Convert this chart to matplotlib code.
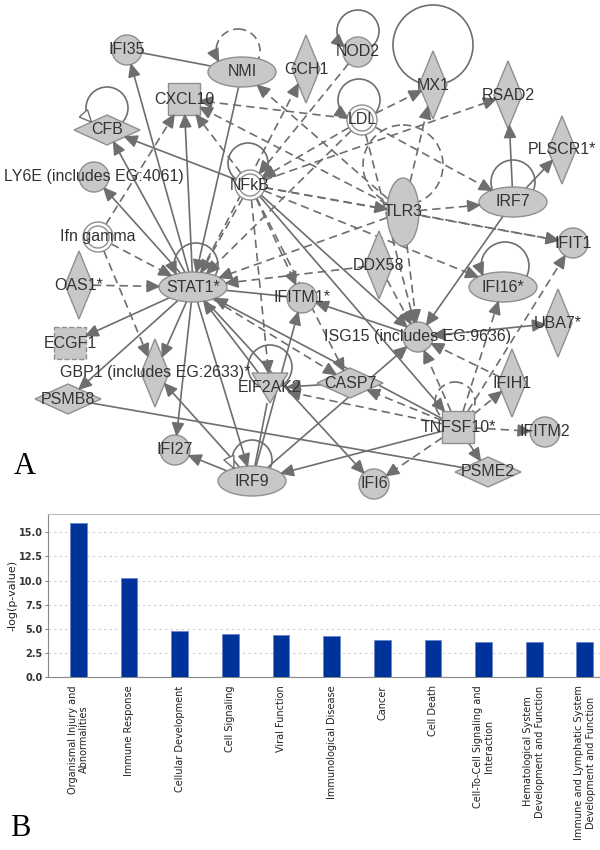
import numpy as np
import matplotlib.pyplot as plt
from matplotlib.patches import Ellipse, Polygon, Rectangle, Circle

# ---- Panel B: datos de la grafica de barras ----
categorias = [
    'Organismal Injury and\nAbnormalities',
    'Immune Response',
    'Cellular Development',
    'Cell Signaling',
    'Viral Function',
    'Immunological Disease',
    'Cancer',
    'Cell Death',
    'Cell-To-Cell Signaling and\nInteraction',
    'Hematological System\nDevelopment and Function',
    'Immune and Lymphatic System\nDevelopment and Function',
]
valores = [16.0, 10.25, 4.75, 4.45, 4.35, 4.3, 3.85, 3.85, 3.65, 3.65, 3.65]
ticks_y = [0.0, 2.5, 5.0, 7.5, 10.0, 12.5, 15.0]

# ---- Panel A: datos de la red ----
nodos = ['IFI35', 'NMI', 'GCH1', 'NOD2', 'MX1', 'RSAD2', 'CXCL10', 'LDL', 'CFB',
         'PLSCR1*', 'LY6E', 'NFkB', 'IRF7', 'TLR3', 'Ifn gamma', 'IFIT1', 'DDX58',
         'OAS1*', 'STAT1*', 'IFI16*', 'IFITM1*', 'UBA7*', 'ISG15', 'ECGF1', 'GBP1',
         'CASP7', 'EIF2AK2', 'IFIH1', 'PSMB8', 'TNFSF10*', 'IFITM2', 'IFI27',
         'PSME2', 'IRF9', 'IFI6']
etiquetas = {'LY6E': 'LY6E (includes EG:4061)',
             'ISG15': 'ISG15 (includes EG:9636)',
             'GBP1': 'GBP1 (includes EG:2633)*',
             'NFkB': 'NFkB'}
tipos = ['circ', 'elip', 'romv', 'circ', 'romv', 'romv', 'cuad', 'doble', 'romh',
         'romv', 'circ', 'doble', 'elip', 'elipv', 'doble', 'circ', 'romv',
         'romv', 'elip', 'elip', 'circ', 'romv', 'circ', 'cuadd', 'romv',
         'romh', 'tri', 'romv', 'romh', 'cuad', 'circ', 'circ',
         'romh', 'elip', 'circ']

# (origen, destino, estilo 's'/'d', flecha 0/1/2)
aristas = [
    ('STAT1*', 'IFI35', 's', 1), ('STAT1*', 'CFB', 's', 1), ('STAT1*', 'LY6E', 's', 1),
    ('STAT1*', 'CXCL10', 's', 1), ('NMI', 'STAT1*', 's', 1), ('IFI35', 'NMI', 's', 0),
    ('NFkB', 'CFB', 's', 1), ('IRF7', 'RSAD2', 's', 1), ('IRF7', 'PLSCR1*', 's', 1),
    ('IRF7', 'ISG15', 's', 1), ('STAT1*', 'ECGF1', 's', 1), ('STAT1*', 'PSMB8', 's', 1),
    ('STAT1*', 'GBP1', 's', 1), ('STAT1*', 'IFI27', 's', 1), ('STAT1*', 'IRF9', 's', 1),
    ('EIF2AK2', 'STAT1*', 's', 1), ('TNFSF10*', 'STAT1*', 's', 1),
    ('STAT1*', 'IFITM1*', 's', 0), ('NFkB', 'ISG15', 's', 1), ('NFkB', 'TNFSF10*', 's', 1),
    ('IRF9', 'IFI27', 's', 1), ('IRF9', 'GBP1', 's', 1), ('IRF9', 'EIF2AK2', 's', 0),
    ('IRF9', 'IFITM1*', 's', 1), ('IRF9', 'ISG15', 's', 1), ('TNFSF10*', 'IRF9', 's', 1),
    ('STAT1*', 'IFI6', 's', 1), ('CASP7', 'EIF2AK2', 's', 1), ('PSMB8', 'PSME2', 's', 0),
    ('TNFSF10*', 'PSME2', 's', 1), ('ISG15', 'UBA7*', 's', 2), ('ISG15', 'IFITM1*', 's', 1),
    ('Ifn gamma', 'CXCL10', 'd', 1), ('Ifn gamma', 'STAT1*', 'd', 1),
    ('Ifn gamma', 'GBP1', 'd', 1), ('OAS1*', 'STAT1*', 'd', 1), ('NFkB', 'CXCL10', 'd', 1),
    ('LDL', 'CXCL10', 'd', 1), ('TLR3', 'CXCL10', 'd', 1), ('TLR3', 'NMI', 'd', 1),
    ('STAT1*', 'GCH1', 'd', 1), ('NOD2', 'NFkB', 'd', 1), ('LDL', 'MX1', 'd', 1),
    ('NFkB', 'RSAD2', 'd', 1), ('LDL', 'IRF7', 'd', 1), ('TLR3', 'IRF7', 'd', 1),
    ('TLR3', 'MX1', 'd', 1), ('TLR3', 'IFIT1', 'd', 1), ('NFkB', 'TLR3', 'd', 1),
    ('LDL', 'NFkB', 'd', 1), ('NFkB', 'IFIT1', 'd', 1), ('NFkB', 'IFI16*', 'd', 1),
    ('NFkB', 'CASP7', 'd', 1), ('NFkB', 'IFITM1*', 'd', 1), ('NFkB', 'STAT1*', 'd', 1),
    ('LDL', 'STAT1*', 'd', 1), ('TLR3', 'STAT1*', 'd', 1), ('DDX58', 'STAT1*', 'd', 1),
    ('DDX58', 'ISG15', 'd', 1), ('TLR3', 'ISG15', 'd', 1), ('LDL', 'ISG15', 'd', 1),
    ('TNFSF10*', 'EIF2AK2', 'd', 1), ('TNFSF10*', 'CASP7', 'd', 1),
    ('TNFSF10*', 'ISG15', 'd', 1), ('TNFSF10*', 'IFIH1', 'd', 1),
    ('TNFSF10*', 'IFITM2', 'd', 1), ('TNFSF10*', 'IFI16*', 'd', 1),
    ('TNFSF10*', 'IFIT1', 'd', 1), ('TNFSF10*', 'IFI6', 'd', 1), ('IFIH1', 'ISG15', 'd', 1),
    ('STAT1*', 'CASP7', 'd', 1), ('NFkB', 'EIF2AK2', 'd', 1),
]

# ---- Disposicion de la red (pixeles) ----
posicion = {
    'IFI35': (127, 50), 'NMI': (242, 72), 'GCH1': (306, 69), 'NOD2': (358, 52),
    'MX1': (433, 85), 'RSAD2': (508, 95), 'CXCL10': (184, 99), 'LDL': (362, 120),
    'CFB': (107, 130), 'PLSCR1*': (562, 150), 'LY6E': (94, 177), 'NFkB': (250, 185),
    'IRF7': (513, 202), 'TLR3': (403, 212), 'Ifn gamma': (98, 237), 'IFIT1': (573, 243),
    'DDX58': (379, 265), 'OAS1*': (79, 285), 'STAT1*': (193, 287), 'IFI16*': (503, 287),
    'IFITM1*': (302, 298), 'UBA7*': (558, 323), 'ISG15': (418, 337), 'ECGF1': (70, 343),
    'GBP1': (155, 373), 'CASP7': (350, 383), 'EIF2AK2': (270, 388), 'IFIH1': (512, 383),
    'PSMB8': (68, 399), 'TNFSF10*': (458, 427), 'IFITM2': (545, 432), 'IFI27': (175, 450),
    'PSME2': (488, 472), 'IRF9': (252, 481), 'IFI6': (374, 484),
}
# (nodo, centro x, centro y, radio, estilo, cabeza)
bucles = [
    ('NMI', 238, 51, 22, 'd', 'llena'), ('NOD2', 358, 31, 21, 's', 'llena'),
    ('LDL', 359, 100, 21, 's', 'llena'), ('MX1', 433, 45, 40, 's', None),
    ('CFB', 107, 108, 21, 's', 'abierta'), ('TLR3', 403, 165, 40, 'd', None),
    ('IRF7', 513, 182, 22, 's', None), ('STAT1*', 196, 265, 22, 's', 'llena'),
    ('IFI16*', 505, 266, 24, 's', 'llena'), ('NFkB', 248, 163, 20, 's', None),
    ('EIF2AK2', 270, 367, 22, 's', None), ('IRF9', 252, 460, 20, 's', 'abierta'),
    ('TNFSF10*', 455, 402, 20, 'd', None),
]

TAM = {'circ': (15, 15), 'doble': (15, 15), 'elip': (34, 15), 'elipv': (16, 34),
       'romv': (14, 34), 'romh': (33, 15), 'cuad': (16, 16), 'cuadd': (16, 16),
       'tri': (18, 15)}
GRIS = '#6e6e6e'
RELLENO = '#c8c8c8'
BORDE = '#8f8f8f'
tipo = dict(zip(nodos, tipos))


def borde(nodo, ux, uy):
    a, b = TAM[tipo[nodo]]
    t = tipo[nodo]
    if t in ('romv', 'romh'):
        return 1 / (abs(ux) / a + abs(uy) / b)
    if t in ('cuad', 'cuadd', 'tri'):
        return 1 / max(abs(ux) / a, abs(uy) / b)
    return 1 / np.hypot(ux / a, uy / b)


def dentro(nodo, x, y):
    xc, yc = posicion[nodo]
    d = np.hypot(x - xc, y - yc)
    if d == 0:
        return True
    return d <= borde(nodo, (x - xc) / d, (y - yc) / d)


def punta(ax, x, y, ux, uy, abierta=False):
    L, W = 12, 5.5
    bx, by = x - ux * L, y - uy * L
    px, py = -uy, ux
    pts = [(x, y), (bx + px * W, by + py * W), (bx - px * W, by - py * W)]
    ax.add_patch(Polygon(pts, closed=True, fc='white' if abierta else GRIS,
                         ec=GRIS, lw=1, zorder=4))


def dibujar_nodo(ax, nodo):
    x, y = posicion[nodo]
    t = tipo[nodo]
    a, b = TAM[t]
    kw = dict(fc=RELLENO, ec=BORDE, lw=1, zorder=3)
    if t in ('circ', 'elip', 'elipv'):
        ax.add_patch(Ellipse((x, y), 2 * a, 2 * b, **kw))
    elif t == 'doble':
        ax.add_patch(Circle((x, y), a, fc='white', ec=BORDE, lw=1, zorder=3))
        ax.add_patch(Circle((x, y), a - 4, fill=False, ec=BORDE, lw=1, zorder=3))
    elif t in ('romv', 'romh'):
        ax.add_patch(Polygon([(x, y - b), (x + a, y), (x, y + b), (x - a, y)], **kw))
    elif t == 'cuad':
        ax.add_patch(Rectangle((x - a, y - b), 2 * a, 2 * b, **kw))
    elif t == 'cuadd':
        ax.add_patch(Rectangle((x - a, y - b), 2 * a, 2 * b, ls='--', **kw))
    elif t == 'tri':
        ax.add_patch(Polygon([(x - a, y - b), (x + a, y - b), (x, y + b)], **kw))


fig = plt.figure(figsize=(6, 8.5), dpi=100)

# ---- Panel A ----
ax = fig.add_axes([0, 1 - 505 / 850, 1, 505 / 850])
ax.set_xlim(0, 600)
ax.set_ylim(505, 0)
ax.axis('off')

for o, d, estilo, flecha in aristas:
    x0, y0 = posicion[o]
    x1, y1 = posicion[d]
    n = np.hypot(x1 - x0, y1 - y0)
    ux, uy = (x1 - x0) / n, (y1 - y0) / n
    s0, s1 = borde(o, ux, uy), borde(d, ux, uy)
    xa, ya = x0 + ux * s0, y0 + uy * s0
    xb, yb = x1 - ux * s1, y1 - uy * s1
    ls = '-' if estilo == 's' else (0, (5, 3))
    recorte = 8 if flecha else 0
    ax.plot([xa, xb - ux * recorte], [ya, yb - uy * recorte], color=GRIS, lw=1.2,
            ls=ls, zorder=2, solid_capstyle='butt')
    if flecha:
        punta(ax, xb, yb, ux, uy)
    if flecha == 2:
        punta(ax, xa, ya, -ux, -uy)

for nodo, cx, cy, r, estilo, cabeza in bucles:
    ls = '-' if estilo == 's' else (0, (5, 3))
    ax.add_patch(Circle((cx, cy), r, fill=False, ec=GRIS, lw=1.2, ls=ls, zorder=1.5))
    if cabeza:
        for th in np.linspace(np.pi, np.pi / 2, 200):
            px, py = cx + r * np.cos(th), cy + r * np.sin(th)
            if dentro(nodo, px, py):
                punta(ax, px, py, np.sin(th), -np.cos(th), abierta=(cabeza == 'abierta'))
                break

for nodo in nodos:
    dibujar_nodo(ax, nodo)
    x, y = posicion[nodo]
    ax.text(x, y, etiquetas.get(nodo, nodo), ha='center', va='center', fontsize=11.5,
            color='#333333', family='Liberation Sans', zorder=6)

# ---- Panel B ----
bx = fig.add_axes([48 / 600, (850 - 677) / 850, 1 - 48 / 600, (677 - 514) / 850])
x = np.arange(len(categorias))
bx.bar(x, valores, width=0.33, color='#003399', edgecolor='#6a86d0', linewidth=0.6,
       zorder=3)
bx.set_xlim(-0.6, 10.3)
bx.set_ylim(0, 16.9)
bx.set_yticks(ticks_y)
bx.set_yticklabels([f'{v:.1f}' for v in ticks_y], fontsize=7, fontweight='bold',
                   color='#333333')
bx.set_xticks(x)
bx.set_xticklabels(categorias, rotation=90, fontsize=7, color='#222222',
                   multialignment='center', family='DejaVu Sans')
bx.tick_params(axis='both', length=2, color='#888888', pad=2)
bx.tick_params(axis='x', length=0, pad=6)
bx.set_ylabel('-log(p-value)', fontsize=8, color='#222222', labelpad=1)
bx.grid(axis='y', ls=(0, (2, 3)), color='#cccccc', lw=0.8, zorder=0)
bx.spines['right'].set_visible(False)
bx.spines['top'].set_color('#bbbbbb')
bx.spines['left'].set_color('#888888')
bx.spines['bottom'].set_color('#888888')

fig.text(25 / 600, 1 - 466 / 850, 'A', family='Liberation Serif', fontsize=22,
         ha='center', va='center')
fig.text(20 / 600, 1 - 828 / 850, 'B', family='Liberation Serif', fontsize=22,
         ha='center', va='center')

fig.savefig('out.png', dpi=100)
